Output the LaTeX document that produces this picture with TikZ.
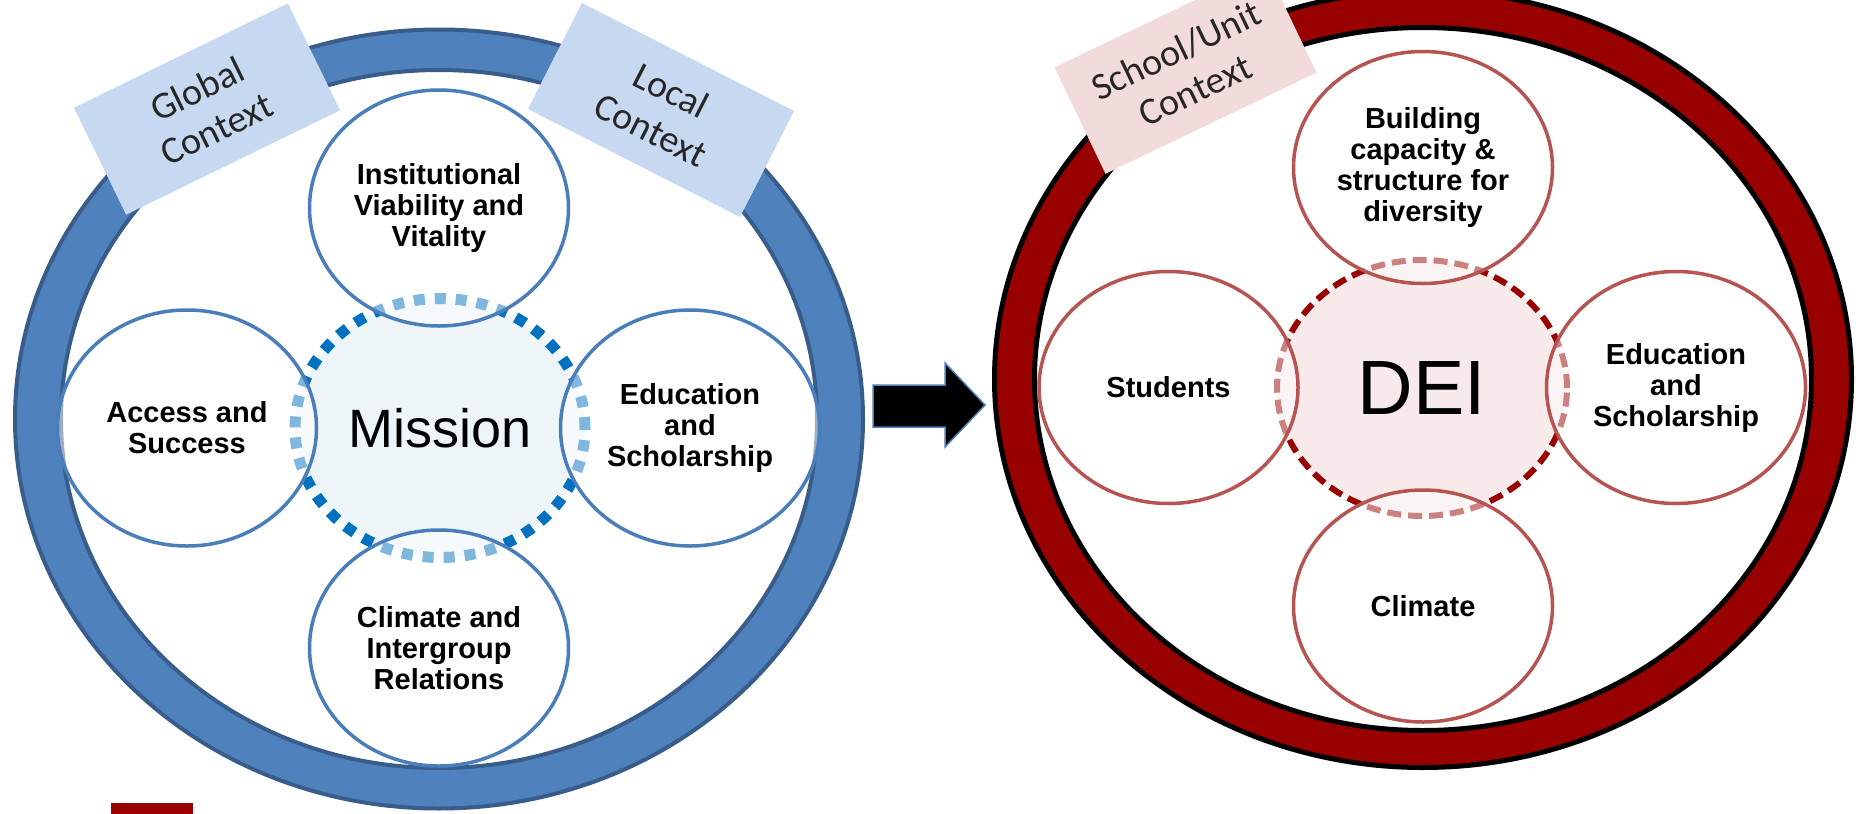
\documentclass[tikz,border=0pt]{standalone}
\usepackage{fontspec}
\newfontfamily\arialfont{Liberation Sans}
\newfontfamily\calfont{Carlito}
\usetikzlibrary{shapes.geometric}
\definecolor{ringblue}{HTML}{4F81BD}
\definecolor{ringedge}{HTML}{385D8A}
\definecolor{circblue}{HTML}{4A7EBB}
\definecolor{ctxblue}{HTML}{C6D9F1}
\definecolor{missionfill}{HTML}{EDF5F9}
\definecolor{dotblue}{HTML}{0070C0}
\definecolor{ringred}{HTML}{990000}
\definecolor{circred}{HTML}{B65451}
\definecolor{ctxpink}{HTML}{F2DCDB}
\definecolor{deifill}{HTML}{F8EAEA}
\newcommand\topicfont{\arialfont\bfseries\fontsize{29}{31}\selectfont}
\newcommand\ctxfont{\calfont\fontsize{38}{44}\selectfont}
\tikzset{
  topicblue/.style={ellipse, draw=circblue, line width=3.5pt, fill=white,
    fill opacity=0.5, text opacity=1, minimum width=259pt,
    minimum height=236pt, inner sep=0pt, align=center, font=\topicfont},
  topicred/.style={topicblue, draw=circred},
  context/.style={rectangle, minimum width=238pt, minimum height=119pt,
    inner sep=0pt, align=center, font=\ctxfont, text=black!85},
  core/.style={ellipse, inner sep=0pt, line cap=butt}
}
\begin{document}
\begin{tikzpicture}[x=1pt,y=-1pt]
\useasboundingbox (0,0) rectangle (1856,814);

\path[fill=ringblue, draw=ringedge, line width=4pt, even odd rule]
  (439,419) ellipse [x radius=424, y radius=389.5]
  (439,419) ellipse [x radius=378, y radius=349];
\path[fill=ringred, draw=black, line width=5pt, even odd rule]
  (1423,379) ellipse [x radius=428.5, y radius=388.5]
  (1423,379) ellipse [x radius=388.5, y radius=351.5];

\node[context, fill=ctxblue, rotate=26] (global) at (207,109) {Global\\Context};
\node[context, fill=ctxblue, rotate=-27] (local) at (661,110) {Local\\Context};
\node[context, fill=ctxpink, rotate=25.6, minimum width=234pt, minimum height=118pt] (school) at (1185.5,70) {School/Unit\\Context};

\node[core, draw=dotblue, fill=missionfill, line width=11pt, dash pattern=on 11pt off 10pt,
  minimum width=290pt, minimum height=259pt, font=\arialfont\fontsize{54}{60}\selectfont] (mission) at (440,428) {Mission};
\node[core, draw=ringred, fill=deifill, line width=6pt, dash pattern=on 14pt off 7pt,
  minimum width=290pt, minimum height=256pt, font=\arialfont\fontsize{77}{80}\selectfont] (dei) at (1422,388) {DEI};

\node[topicblue] (inst) at (439,208) {Institutional\\Viability and\\Vitality};
\node[topicblue] (access) at (187,428) {Access and\\Success};
\node[topicblue] (edu) at (690,428) {Education\\and\\Scholarship};
\node[topicblue] (climate) at (439,648) {Climate and\\Intergroup\\Relations};

\node[topicred, minimum height=232pt] (build) at (1423,167.5) {Building\\capacity \&\\structure for\\diversity};
\node[topicred, minimum height=232pt] (students) at (1168.5,387.5) {Students};
\node[topicred, minimum height=232pt] (scholar) at (1676,387.5) {Education\\and\\Scholarship};
\node[topicred, minimum height=232pt] (climdei) at (1423,606) {Climate};

\draw[fill=black, draw=circblue, line width=1.5pt, line join=miter]
  (873,385) -- (945,385) -- (945,363) -- (985,405) -- (945,447) -- (945,427) -- (873,427) -- cycle;

\fill[ringred] (111,803) rectangle (193,814);
\end{tikzpicture}
\end{document}
